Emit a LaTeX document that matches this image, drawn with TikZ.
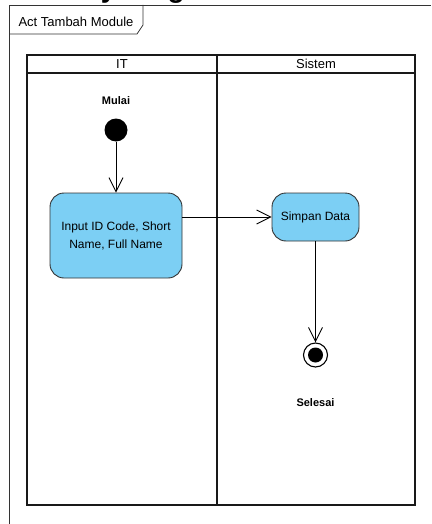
\documentclass[tikz,border=0pt]{standalone}
\usepackage{fontspec}
\setmainfont{Liberation Sans}
\usetikzlibrary{arrows.meta}
\definecolor{actblue}{HTML}{7CCFF4}
\definecolor{framegray}{HTML}{333333}
\begin{document}
\begin{tikzpicture}[x=1pt,y=-1pt,
  lane/.style={draw=black!90, line width=2.4pt},
  act/.style={draw=framegray, fill=actblue, rounded corners=14pt, line width=0.9pt,
    align=center, inner sep=0pt, font=\fontsize{12}{18}\selectfont},
  flow/.style={-{Straight Barb[length=14pt,width=14pt,line width=0.9pt]}, line width=0.8pt},
  lbl/.style={font=\bfseries\fontsize{11}{13}\selectfont, inner sep=0pt},
  hdr/.style={font=\fontsize{13}{15}\selectfont, inner sep=0pt}]
\useasboundingbox (0,0) rectangle (431,524);
% cut-off title
\begin{scope}
\clip (0,0) rectangle (431,524);
\node[anchor=base west, inner sep=0pt, font=\bfseries\fontsize{28}{30}\selectfont] (title) at (15,-2) {Activity Diagram};
\end{scope}
% frame
\draw[framegray, line width=0.8pt] (9,524) -- (9,5) -- (431,5);
\draw[framegray, line width=0.8pt] (9,34) -- (137,34) -- (143,25) -- (143,5);
\node[font=\fontsize{13}{15}\selectfont, inner sep=0pt] (frametitle) at (76,21.5) {Act Tambah Module};
% swimlanes
\draw[lane] (27,55) rectangle (415,505);
\draw[lane] (27,73) -- (415,73);
\draw[lane] (217,55) -- (217,505);
\node[hdr] (laneit) at (122,64) {IT};
\node[hdr] (lanesys) at (316,64) {Sistem};
% nodes
\node[lbl] (mulai) at (116,101) {Mulai};
\node[circle, fill=black, minimum size=23pt, inner sep=0pt] (start) at (116,130) {};
\node[act, minimum width=132pt, minimum height=85pt] (input) at (116,235.5) {Input ID Code, Short\\Name, Full Name};
\node[act, minimum width=87pt, minimum height=48pt] (simpan) at (315.5,217) {Simpan Data};
\node[circle, draw=black, line width=1.1pt, minimum size=24pt, inner sep=0pt] (end) at (315.5,355) {};
\node[circle, fill=black, minimum size=15pt, inner sep=0pt] (endin) at (end) {};
\node[lbl] (selesai) at (315.5,403) {Selesai};
% flows
\draw[flow] (start) -- (input);
\draw[flow] (input.east |- simpan.west) -- (simpan.west);
\draw[flow] (simpan) -- (end);
\end{tikzpicture}
\end{document}
